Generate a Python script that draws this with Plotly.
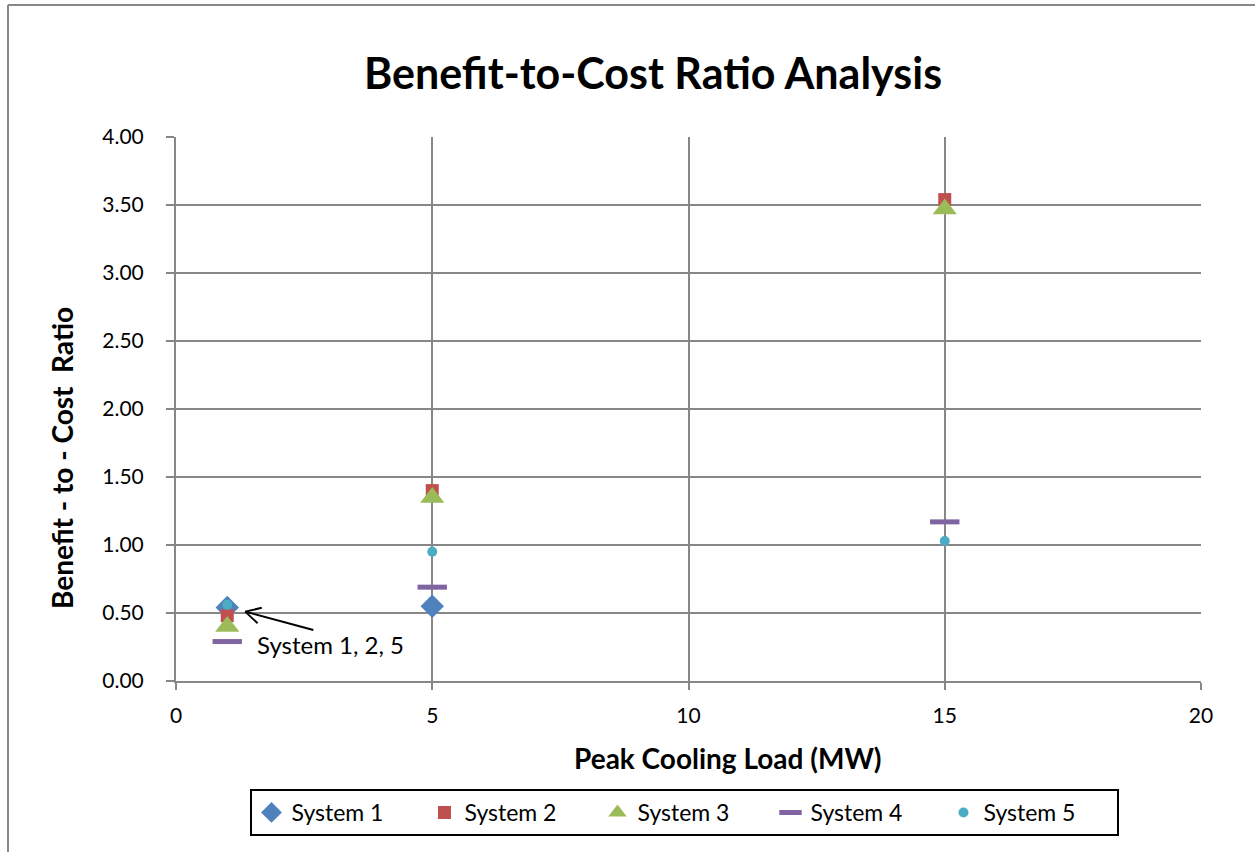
import plotly.graph_objects as go
import math

# Peak cooling load (MW) evaluated for each system
loads = [1, 5, 15]

system_1 = [0.54, 0.55, None]
system_2 = [0.48, 1.40, 3.54]
system_3 = [0.40, 1.35, 3.47]
system_4 = [0.29, 0.69, 1.17]
system_5 = [0.56, 0.95, 1.03]

names = ["System 1", "System 2", "System 3", "System 4", "System 5"]
series = [system_1, system_2, system_3, system_4, system_5]
colors = ["#4F81BD", "#C0504D", "#9BBB59", "#8064A2", "#4BACC6"]
symbols = ["diamond", "square", "triangle-up", "line-ew", "circle"]
sizes = [18, 13, 21, 21, 10]

y_ticks = [0, 0.5, 1.0, 1.5, 2.0, 2.5, 3.0, 3.5, 4.0]
x_ticks = [0, 5, 10, 15, 20]

FONT = "Lato, Open Sans, sans-serif"

fig = go.Figure()
for name, ys, col, sym, sz in zip(names, series, colors, symbols, sizes):
    if sym == "line-ew":
        marker = dict(symbol=sym, size=sz, color=col, line=dict(width=5, color=col))
    else:
        marker = dict(symbol=sym, size=sz, color=col, line=dict(width=0))
    fig.add_trace(go.Scatter(x=loads, y=ys, mode="markers", name=name, marker=marker))

grid = "#878787"
fig.update_xaxes(
    range=[0, 20], tickvals=x_ticks, ticktext=[str(v) for v in x_ticks],
    showgrid=True, gridcolor=grid, gridwidth=2,
    showline=True, linecolor=grid, linewidth=2,
    ticks="outside", ticklen=7, tickcolor=grid, tickwidth=2,
    ticklabelstandoff=8,
    zeroline=False, tickfont=dict(family=FONT, size=21, color="black"),
)
fig.update_yaxes(
    range=[0, 4], tickvals=y_ticks, ticktext=[f"{v:.2f}" for v in y_ticks],
    showgrid=True, gridcolor=grid, gridwidth=2,
    showline=True, linecolor=grid, linewidth=2,
    ticks="outside", ticklen=8, tickcolor=grid, tickwidth=2,
    ticklabelstandoff=18,
    zeroline=False, tickfont=dict(family=FONT, size=21, color="black"),
)

# chart frame
W, H = 1255, 852
L, R, T, B = 176, 54, 137, 171
pw, ph = W - L - R, H - T - B
def px(xp):
    return (xp - L) / pw
def py(yp):
    return (H - B - yp) / ph

fig.add_shape(type="line", xref="paper", yref="paper", x0=px(8), x1=px(8), y0=py(H + 5), y1=py(5),
              line=dict(color=grid, width=2))
fig.add_shape(type="line", xref="paper", yref="paper", x0=px(8), x1=px(W + 5), y0=py(5), y1=py(5),
              line=dict(color=grid, width=2))

fig.add_annotation(text="<b>Benefit-to-Cost Ratio Analysis</b>", xref="paper", yref="paper",
                   x=px(653), y=py(73), showarrow=False, xanchor="center", yanchor="middle",
                   font=dict(family=FONT, size=43, color="black"))
fig.add_annotation(text="<b>Peak Cooling Load (MW)</b>", xref="paper", yref="paper",
                   x=px(728), y=py(758), showarrow=False, xanchor="center", yanchor="middle",
                   font=dict(family=FONT, size=28, color="black"))
fig.add_annotation(text="<b>Benefit - to - Cost  Ratio</b>", xref="paper", yref="paper",
                   x=px(62), y=py(458), showarrow=False, xanchor="center", yanchor="middle",
                   textangle=-90, font=dict(family=FONT, size=28, color="black"))

# callout arrow (open head) pointing at the overlapping markers at 1 MW
xs_per_px = 20 / pw
ys_per_px = 4 / ph
head = (1.35, 0.51)
tail = (2.68, 0.375)
fig.add_shape(type="line", xref="x", yref="y", x0=tail[0], y0=tail[1], x1=head[0], y1=head[1],
              line=dict(color="black", width=2))
dx_px = (tail[0] - head[0]) / xs_per_px
dy_px = -(tail[1] - head[1]) / ys_per_px
ang = math.atan2(dy_px, dx_px)
for s in (-1, 1):
    a = ang + s * math.radians(28)
    ex = head[0] + 17 * math.cos(a) * xs_per_px
    ey = head[1] - 17 * math.sin(a) * ys_per_px
    fig.add_shape(type="line", xref="x", yref="y", x0=head[0], y0=head[1], x1=ex, y1=ey,
                  line=dict(color="black", width=2))
fig.add_annotation(x=3.02, y=0.265, xref="x", yref="y", text="System 1, 2, 5", showarrow=False,
                   font=dict(family=FONT, size=24, color="black"), xanchor="center", yanchor="middle")

fig.update_layout(
    width=W, height=H,
    margin=dict(l=L, r=R, t=T, b=B),
    paper_bgcolor="white", plot_bgcolor="white",
    showlegend=True,
    legend=dict(orientation="h", x=px(684), xanchor="center", y=py(789), yanchor="top",
                bordercolor="black", borderwidth=2, bgcolor="white",
                entrywidth=128, entrywidthmode="pixels", itemwidth=30,
                font=dict(family=FONT, size=23, color="black")),
    font=dict(family=FONT),
)

fig.write_html("out.html")
